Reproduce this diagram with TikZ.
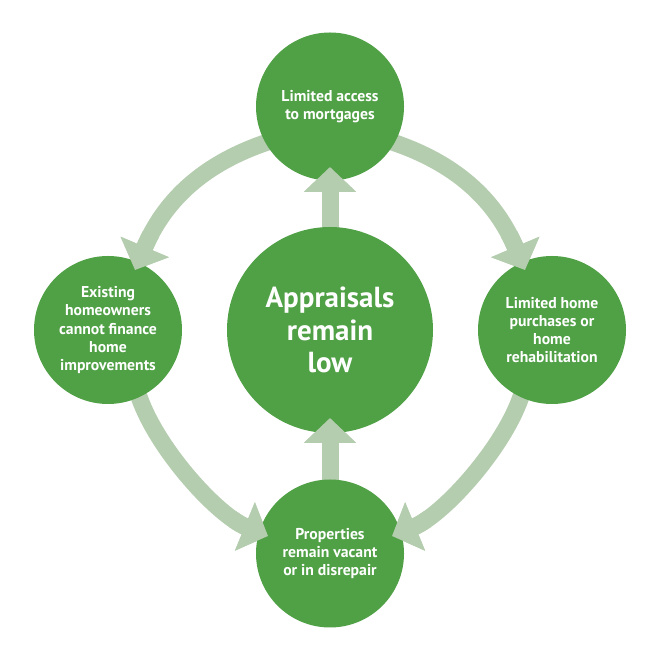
\documentclass[tikz,border=0pt]{standalone}
\usepackage{fontspec}
\setmainfont{PT Sans}
\usetikzlibrary{arrows.meta,calc}
\definecolor{dkgreen}{HTML}{50A046}
\definecolor{ltgreen}{HTML}{B4CDAE}
\pgfdeclarelayer{bg}
\pgfsetlayers{bg,main}
\begin{document}
\begin{tikzpicture}[x=1pt,y=1pt,
  bubble/.style={circle,fill=dkgreen,draw=none,inner sep=0pt,outer sep=0pt,
    minimum size=148pt,text=white,align=center,
    font=\bfseries\fontsize{15.7}{18.3}\selectfont},
  hub/.style={bubble,minimum size=206pt,font=\bfseries\fontsize{29}{32.5}\selectfont},
  flow/.style={draw=ltgreen,line width=17pt,line cap=butt,
    -{Triangle[width=51pt,length=25pt]}}]
\useasboundingbox (0,0) rectangle (660,660);

% circles
\node[hub] (hub) at (330,330) {Appraisals\\remain\\low};
\node[bubble] (top) at (330,553.5) {Limited access\\to mortgages};
\node[bubble] (left) at (108,330) {Existing\\homeowners\\cannot finance\\home\\improvements};
\node[bubble] (right) at (552,330) {Limited home\\purchases or\\home\\rehabilitation};
\node[bubble] (bottom) at (330,106.5) {Properties\\remain vacant\\or in disrepair};

% connector end points
\coordinate (tlA) at (275,520.5);   \coordinate (tlS) at (265.5,517.2); \coordinate (tlT) at (135,390);
\coordinate (trA) at (385,520.5);   \coordinate (trS) at (394.5,517.2); \coordinate (trT) at (525,390);
\coordinate (lbA) at (136.1,271.4); \coordinate (lbS) at (139.5,262);   \coordinate (lbT) at (268,124);
\coordinate (rbA) at (523.9,271.4); \coordinate (rbS) at (520.5,262);   \coordinate (rbT) at (392,124);
\coordinate (upA) at (330,420);     \coordinate (upT) at (330,493);
\coordinate (dnA) at (330,170);     \coordinate (dnT) at (330,242);

% full arrows, tails under the circles
\begin{pgfonlayer}{bg}
  \draw[flow] (tlA) -- (tlS) to[out=199,in=67] (tlT);
  \draw[flow] (trA) -- (trS) to[out=-19,in=113] (trT);
  \draw[flow] (lbA) -- (lbS) to[out=289.6,in=157.6,looseness=0.75] (lbT);
  \draw[flow] (rbA) -- (rbS) to[out=250.4,in=22.4,looseness=0.75] (rbT);
  \draw[flow] (upA) -- (upT);
  \draw[flow] (dnA) -- (dnT);
\end{pgfonlayer}

% heads on top of the circles
\begin{scope}\clip (tlT) circle (40);
  \draw[flow] (tlA) -- (tlS) to[out=199,in=67] (tlT);\end{scope}
\begin{scope}\clip (trT) circle (40);
  \draw[flow] (trA) -- (trS) to[out=-19,in=113] (trT);\end{scope}
\begin{scope}\clip (lbT) circle (40);
  \draw[flow] (lbA) -- (lbS) to[out=289.6,in=157.6,looseness=0.75] (lbT);\end{scope}
\begin{scope}\clip (rbT) circle (40);
  \draw[flow] (rbA) -- (rbS) to[out=250.4,in=22.4,looseness=0.75] (rbT);\end{scope}
\begin{scope}\clip (upT) circle (40);
  \draw[flow] (upA) -- (upT);\end{scope}
\begin{scope}\clip (dnT) circle (40);
  \draw[flow] (dnA) -- (dnT);\end{scope}
\end{tikzpicture}
\end{document}
